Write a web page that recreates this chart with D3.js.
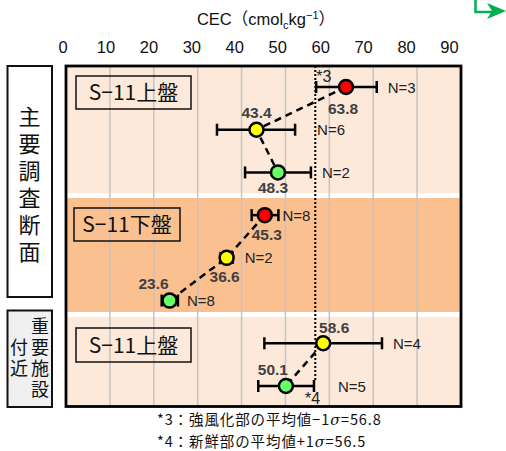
<!DOCTYPE html>
<html><head><meta charset="utf-8">
<script src="https://cdn.jsdelivr.net/npm/d3@7/dist/d3.min.js"></script>
<style>
html,body{margin:0;padding:0;background:#fff;}
svg{display:block;}
</style></head>
<body>
<svg id="c" width="506" height="451"></svg>
<script>
// ---------- data ----------
const groups = ["S−11上盤", "S−11下盤", "S−11上盤"];
const rowGroup  = [0, 0, 0, 1, 1, 1, 2, 2];
const rowColor  = ["#ff0000", "#ffff00", "#66ff66", "#ff0000", "#ffff00", "#66ff66", "#ffff00", "#66ff66"];
const means     = [63.8, 43.4, 48.3, 45.3, 36.6, 23.6, 58.6, 50.1];
const lows      = [57.0, 34.4, 40.8, 42.3, 35.2, 21.8, 45.2, 43.8];
const highs     = [70.8, 52.2, 55.8, 48.4, 38.0, 25.5, 72.0, 56.5];
const counts    = [3, 6, 2, 8, 2, 8, 4, 5];
const xTicks    = [0, 10, 20, 30, 40, 50, 60, 70, 80, 90];
const refValue3 = 56.8;
const refValue4 = 56.5;
const sideLabel1 = "主要調査断面";
const sideLabel2a = "重要施設";
const sideLabel2b = "付近";
const footnotes = ["*3：強風化部の平均値−1", "*4：新鮮部の平均値+1"];
const footValues = [56.8, 56.5];

// label placement (layout only)
const valueLabelOffset = [[-3, 21], [0, -17], [-5, 15], [2, 19], [-2, 19], [-16, -17], [11, -16], [-13, -17]];
const nLabelGap = [11, 22, 11, 4, 12, 9, 11, 24];

const svg = d3.select("#c");
const FONT = "'Liberation Sans', Arial, 'Noto Sans CJK JP', sans-serif";
const JP = "'Noto Sans CJK JP', sans-serif";

const x = d3.scaleLinear().domain([0, 90]).range([66, 461]);
const y = d3.scalePoint().domain(d3.range(means.length)).range([87, 386]);

const plotTop = 66, plotBottom = 406.5;

// bands
const bands = [
  {y0: 66, y1: 193, c: "#fde9d9"},
  {y0: 198, y1: 312, c: "#fac090"},
  {y0: 317, y1: 406, c: "#fde9d9"}
];
svg.selectAll("rect.band").data(bands).enter().append("rect")
  .attr("x", x(0)).attr("width", x(90) - x(0))
  .attr("y", d => d.y0).attr("height", d => d.y1 - d.y0)
  .attr("fill", d => d.c);

// grid
svg.selectAll("line.grid").data(xTicks.slice(1, -1)).enter().append("line")
  .attr("x1", d => x(d)).attr("x2", d => x(d))
  .attr("y1", plotTop).attr("y2", plotBottom)
  .attr("stroke", "#c4c4c4").attr("stroke-width", 1.5);

// group label boxes
const gBoxes = [
  {x0: 76, y0: 76, x1: 191, y1: 109},
  {x0: 74, y0: 208, x1: 180, y1: 241},
  {x0: 76, y0: 328, x1: 191, y1: 362}
];
gBoxes.forEach((b, i) => {
  svg.append("rect").attr("x", b.x0).attr("y", b.y0)
    .attr("width", b.x1 - b.x0).attr("height", b.y1 - b.y0)
    .attr("fill", "none").attr("stroke", "#111").attr("stroke-width", 1.5);
  svg.append("text").attr("x", (b.x0 + b.x1) / 2).attr("y", (b.y0 + b.y1) / 2 + 7.5)
    .attr("text-anchor", "middle").attr("font-family", JP).attr("font-size", 21)
    .attr("fill", "#111").text(groups[i]);
});

// reference dotted line
svg.append("line")
  .attr("x1", x(refValue3)).attr("x2", x(refValue3))
  .attr("y1", plotTop).attr("y2", y(7) - 4)
  .attr("stroke", "#000").attr("stroke-width", 2).attr("stroke-dasharray", "2,2");

// dashed connectors
const lineGen = d3.line().x(i => x(means[i])).y(i => y(i));
[0, 1, 2].forEach(g => {
  const idx = d3.range(means.length).filter(i => rowGroup[i] === g);
  svg.append("path").attr("d", lineGen(idx))
    .attr("fill", "none").attr("stroke", "#000").attr("stroke-width", 2.5)
    .attr("stroke-dasharray", "7,5");
});

// error bars
const rows = d3.range(means.length);
const eb = svg.selectAll("g.eb").data(rows).enter().append("g")
  .attr("stroke", "#000").attr("stroke-width", 2.5);
eb.append("line").attr("x1", i => x(lows[i])).attr("x2", i => x(highs[i]))
  .attr("y1", i => y(i)).attr("y2", i => y(i));
eb.append("line").attr("x1", i => x(lows[i])).attr("x2", i => x(lows[i]))
  .attr("y1", i => y(i) - 6).attr("y2", i => y(i) + 6);
eb.append("line").attr("x1", i => x(highs[i])).attr("x2", i => x(highs[i]))
  .attr("y1", i => y(i) - 6).attr("y2", i => y(i) + 6);

// points
svg.selectAll("circle.pt").data(rows).enter().append("circle")
  .attr("cx", i => x(means[i])).attr("cy", i => y(i)).attr("r", 7)
  .attr("fill", i => rowColor[i]).attr("stroke", "#000").attr("stroke-width", 2.5);

// value labels
svg.selectAll("text.val").data(rows).enter().append("text")
  .attr("x", i => x(means[i]) + valueLabelOffset[i][0])
  .attr("y", i => y(i) + valueLabelOffset[i][1] + 5.5)
  .attr("text-anchor", "middle").attr("font-family", FONT).attr("font-weight", "bold")
  .attr("font-size", 15.5).attr("fill", "#404040")
  .text(i => means[i].toFixed(1));

// N labels
svg.selectAll("text.n").data(rows).enter().append("text")
  .attr("x", i => x(highs[i]) + nLabelGap[i])
  .attr("y", i => y(i) + 5.5)
  .attr("font-family", FONT).attr("font-size", 15).attr("fill", "#222")
  .text(i => "N=" + counts[i]);

// *3 / *4 marks
svg.append("text").attr("x", x(refValue3) + 1).attr("y", 82)
  .attr("font-family", FONT).attr("font-size", 16).attr("fill", "#222").text("*3");
svg.append("text").attr("x", x(refValue4) - 9).attr("y", 404)
  .attr("font-family", FONT).attr("font-size", 16).attr("fill", "#222").text("*4");

// frame
svg.append("rect").attr("x", x(0)).attr("y", plotTop)
  .attr("width", x(90) - x(0)).attr("height", plotBottom - plotTop)
  .attr("fill", "none").attr("stroke", "#000").attr("stroke-width", 2.8);

// axis labels (top)
const xl = x.copy().range([62.5, 449]);
const ax = svg.append("g").attr("transform", "translate(0,53)")
  .call(d3.axisTop(xl).tickValues(xTicks).tickSize(0).tickPadding(0));
ax.select(".domain").remove();
ax.selectAll("text").attr("font-family", FONT).attr("font-size", 16.5).attr("fill", "#111");

// axis title
const t = svg.append("text").attr("x", 266).attr("y", 25).attr("text-anchor", "middle")
  .attr("font-family", FONT).attr("font-size", 16.5).attr("fill", "#111");
t.append("tspan").text("CEC（cmol");
t.append("tspan").attr("font-size", 11).attr("dy", 4).text("c");
t.append("tspan").attr("dy", -4).text("kg");
t.append("tspan").attr("font-size", 11).attr("dy", -6).text("−1");
t.append("tspan").attr("dy", 6).text("）");

// side boxes
svg.append("rect").attr("x", 7.5).attr("y", 66).attr("width", 44.5).attr("height", 231)
  .attr("fill", "#fff").attr("stroke", "#111").attr("stroke-width", 2);
svg.append("rect").attr("x", 7.5).attr("y", 310.5).attr("width", 44.5).attr("height", 96.5)
  .attr("fill", "#f0f0f0").attr("stroke", "#111").attr("stroke-width", 2);

function vText(str, cx, y0, size, spacing) {
  svg.append("text").attr("x", cx).attr("y", y0)
    .attr("font-family", JP).attr("font-size", size).attr("fill", "#111")
    .style("writing-mode", "vertical-rl").style("text-orientation", "upright")
    .style("letter-spacing", spacing + "px")
    .text(str);
}
vText(sideLabel1, 29.5, 106, 22, 5);
vText(sideLabel2a, 40, 317, 18, 3);
vText(sideLabel2b, 19, 338, 18, 3);

// footnotes
footnotes.forEach((f, i) => {
  const ft = svg.append("text").attr("x", 157).attr("y", 424.5 + i * 22)
    .attr("font-family", JP).attr("font-size", 14.5).attr("fill", "#111")
    .style("letter-spacing", "0.9px");
  ft.append("tspan").text(f);
  ft.append("tspan").attr("font-style", "italic").attr("font-family", "'DejaVu Serif', serif").text("σ");
  ft.append("tspan").text("=" + footValues[i].toFixed(1));
});

// green arrow fragment (top-right)
svg.append("path").attr("d", "M475.5,0 V12 H494")
  .attr("fill", "none").attr("stroke", "#00b050").attr("stroke-width", 2.5);
svg.append("path").attr("d", "M487,3 L506,11 L487,19 L492,11 Z")
  .attr("fill", "#00b050");
</script>
</body></html>
